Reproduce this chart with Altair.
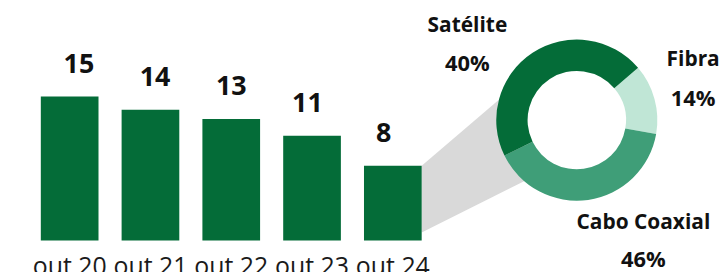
import math
import altair as alt
import pandas as pd

# ---------------- data ----------------
periods = ["out 20", "out 21", "out 22", "out 23", "out 24"]
values = [15.4, 14.0, 13.0, 11.2, 8.0]

segments = ["Fibra", "Satélite", "Cabo Coaxial"]
shares = [14, 40, 46]

# ---------------- styles / layout ----------------
FONT = "Open Sans"
BAR_COLOR = "#046c38"
SEG_COLORS = ["#c0e6d6", "#3f9e78", "#046c38"]
GREY = "#d9d9d9"

W, H = 712, 233
Y_MAX = 24.8
BAND_RANGE = [33, 416]
PAD_INNER = 0.286

CX, CY = 572, 112          # donut centre (plot px)
R_OUT, R_IN = 81, 49.5
START = math.radians(49.5)

# label placement for the donut (plot px, text baseline)
label_pos = {
    "Satélite": [(462, 23), (462, 63)],
    "Fibra": [(689, 58), (689, 98)],
    "Cabo Coaxial": [(639, 221), (639, 260)],
}

px = alt.Scale(domain=[0, W], range=[0, W], zero=False, nice=False)
py = alt.Scale(domain=[0, H], range=[0, H], zero=False, nice=False)

# ---------------- bars ----------------
bar_df = pd.DataFrame({"period": periods, "value": values})
band = alt.Scale(range=BAND_RANGE, paddingInner=PAD_INNER, paddingOuter=0)
xb = alt.X(
    "period:N", sort=periods, scale=band,
    axis=alt.Axis(title=None, orient="bottom", labelAngle=0, domain=False, ticks=False, tickSize=0,
                  labelFont=FONT, labelFontSize=25, labelColor="#1a1a1a",
                  labelPadding=34, labelBaseline="alphabetic", labelOverlap=False),
)
yb = alt.Y("value:Q", scale=alt.Scale(domain=[0, Y_MAX], nice=False, zero=True), axis=None)

bars = alt.Chart(bar_df).mark_bar(color=BAR_COLOR).encode(x=xb, y=yb)
bar_labels = alt.Chart(bar_df).mark_text(
    dy=-24, baseline="alphabetic", fontSize=27, fontWeight="bold", font=FONT, color="#111"
).encode(
    x=alt.X("period:N", sort=periods, scale=band, axis=None),
    y=yb,
    text=alt.Text("value:Q", format=".0f"),
)

# ---------------- connector (from last bar to donut) ----------------
last_right = BAND_RANGE[1]
last_top = H - values[-1] / Y_MAX * H
end_x = CX - 53
conn_df = pd.DataFrame({
    "cx": [last_right, end_x],
    "top": [last_top, last_top - 0.855 * (end_x - last_right)],
    "bot": [H - 8, H - 8 - 0.5 * (end_x - last_right)],
})
connector = alt.Chart(conn_df).mark_area(color=GREY).encode(
    x=alt.X("cx:Q", scale=px, axis=None),
    y=alt.Y("top:Q", scale=py, axis=None),
    y2="bot:Q",
)

# ---------------- donut ----------------
pie_df = pd.DataFrame({"segment": segments, "share": shares, "ord": list(range(len(segments)))})
donut = alt.Chart(pie_df).mark_arc(outerRadius=R_OUT, innerRadius=R_IN).encode(
    theta=alt.Theta("share:Q", stack=True,
                    scale=alt.Scale(domain=[0, sum(shares)], range=[START, START + 2 * math.pi])),
    color=alt.Color("segment:N", scale=alt.Scale(domain=segments, range=SEG_COLORS), legend=None),
    order=alt.Order("ord:Q"),
    x=alt.value(CX), y=alt.value(CY),
)

rows = []
for s, p in zip(segments, shares):
    (x1, y1), (x2, y2) = label_pos[s]
    rows.append({"txt": s, "lx": x1, "ly": y1, "sz": 21})
    rows.append({"txt": f"{p}%", "lx": x2, "ly": y2, "sz": 22})
lab_df = pd.DataFrame(rows)
donut_labels = alt.Chart(lab_df).mark_text(
    fontWeight="bold", font=FONT, color="#111", baseline="alphabetic", align="center"
).encode(
    x=alt.X("lx:Q", scale=px, axis=None),
    y=alt.Y("ly:Q", scale=py, axis=None),
    size=alt.Size("sz:Q", scale=None, legend=None),
    text="txt:N",
)

chart = alt.layer(connector, bars, bar_labels, donut, donut_labels).resolve_scale(
    x="independent", y="independent", color="independent"
).properties(width=W, height=H, padding=0).configure_view(stroke=None)

chart.save("out.html", embed_options={"renderer": "svg", "actions": False})
